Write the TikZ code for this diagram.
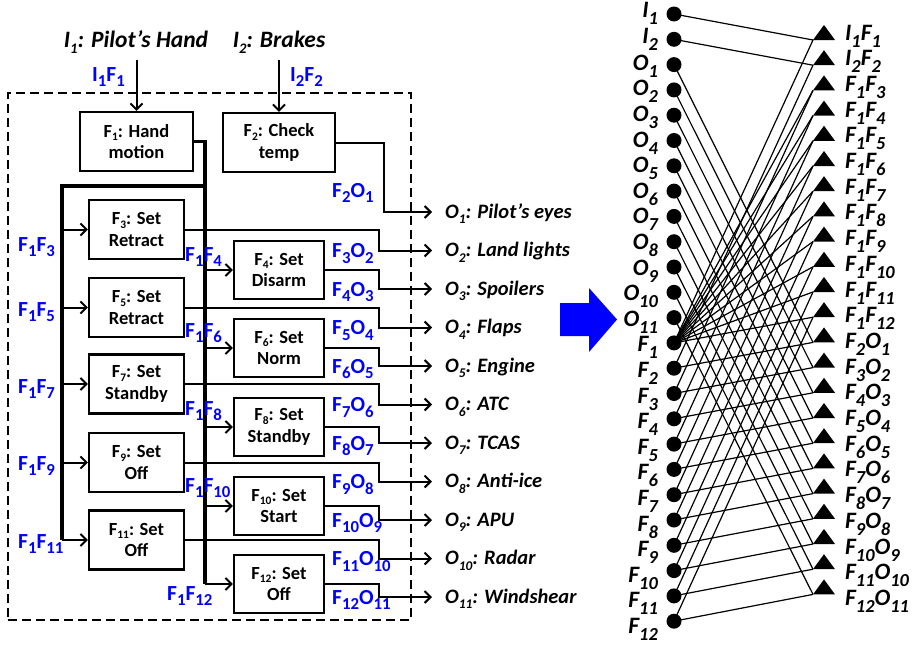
\documentclass[tikz,border=0pt]{standalone}
\usepackage{fontspec}
\setmainfont{Carlito}
\usepackage{graphicx}
\usetikzlibrary{arrows.meta,calc}
\pgfdeclarelayer{bg}
\pgfsetlayers{bg,main}
\newcommand\sbx[2][0.78]{\raisebox{-0.27em}{\scalebox{#1}{#2}}}
\newcommand\bsb[1]{\raisebox{-0.2em}{\scalebox{0.62}{#1}}}
\newcommand\gsb[1]{\raisebox{-0.3em}{\scalebox{0.78}{#1}}}
\begin{document}
\begin{tikzpicture}[x=1pt,y=-1pt,
  fbox/.style={draw,line width=2.3pt,align=center,inner sep=0pt,
    font=\fontsize{18.5}{21.5}\selectfont\bfseries},
  lbox/.style={fbox,minimum width=95pt,minimum height=59pt},
  rbox/.style={fbox,minimum width=90pt,minimum height=58pt},
  arr/.style={line width=2pt,-{Straight Barb[length=6pt,width=12pt,line width=2pt]}},
  bus/.style={line width=3.3pt},
  blbl/.style={text=blue,font=\fontsize{21.5}{21.5}\selectfont\bfseries,anchor=base west,inner sep=0pt},
  olbl/.style={font=\fontsize{20.5}{20.5}\selectfont\bfseries\itshape,anchor=base west,inner sep=0pt},
  tlbl/.style={font=\fontsize{23.5}{23.5}\selectfont\bfseries\itshape,anchor=base,inner sep=0pt},
  glbl/.style={font=\fontsize{23.5}{23.5}\selectfont\bfseries\itshape,inner sep=0pt},
  dot/.style={circle,fill,inner sep=0pt,minimum size=15pt},
  edge/.style={line width=1.2pt}
]
\useasboundingbox (0,0) rectangle (916,645);

% ---------- left: functional diagram ----------
\node[draw,line width=2.2pt,dash pattern=on 9pt off 5pt,minimum width=403pt,minimum height=527pt,inner sep=0pt] (sys) at (209.5,356.5) {};

\node[tlbl] (in1) at (136,47) {I\sbx[0.62]{1}: Pilot's Hand};
\node[tlbl] (in2) at (279,47) {I\sbx[0.62]{2}: Brakes};

\node[fbox,minimum width=113pt,minimum height=59pt] (F1) at (136.5,141.5) {F\bsb{1}: Hand\\motion};
\node[fbox,minimum width=112pt,minimum height=59pt] (F2) at (279,142.5) {F\bsb{2}: Check\\temp};

\node[lbox] (F3)  at (136.5,229.5) {F\bsb{3}: Set\\Retract};
\node[lbox] (F5)  at (136.5,307.5) {F\bsb{5}: Set\\Retract};
\node[lbox] (F7)  at (136.5,384)   {F\bsb{7}: Set\\Standby};
\node[lbox] (F9)  at (136.5,462.5) {F\bsb{9}: Set\\Off};
\node[lbox] (F11) at (136.5,540)   {F\bsb{11}: Set\\Off};

\node[rbox] (F4)  at (279,270) {F\bsb{4}: Set\\Disarm};
\node[rbox] (F6)  at (279,348) {F\bsb{6}: Set\\Norm};
\node[rbox] (F8)  at (279,427) {F\bsb{8}: Set\\Standby};
\node[rbox] (F10) at (279,506) {F\bsb{10}: Set\\Start};
\node[rbox] (F12) at (279,584) {F\bsb{12}: Set\\Off};

% inputs
\draw[arr,shorten <=6pt] (in1.south -| F1.north) -- (F1.north);
\draw[arr,shorten <=6pt] (in2.south -| F2.north) -- (F2.north);

% buses
\coordinate (j1) at (205,186);
\coordinate (busR) at (205,600);
\coordinate (busL) at (62,600);
\draw[bus] (F1.east) -| (busR |- F12);
\draw[bus] (j1) -| (busL |- F11);
\foreach \b in {F3,F5,F7,F9,F11} \draw[arr] (busL |- \b) -- (\b.west);
\foreach \b in {F4,F6,F8,F10,F12} \draw[arr] (busR |- \b) -- (\b.west);

% outputs
\coordinate (xo) at (379,0);
\coordinate (xo2) at (384,0);
\foreach \k [evaluate=\k as \yy using 212+38.5*(\k-1)] in {1,...,11}
  \coordinate (o\k) at (432,\yy);
\draw[arr] (F2.east) -| (xo2 |- o1) -- (o1);
\foreach \b/\o in {F3/o2,F4/o3,F5/o4,F6/o5,F7/o6,F8/o7,F9/o8,F10/o9,F11/o10,F12/o11}
  \draw[arr] (\b.east) -| (xo |- \o) -- (\o);
\foreach \k/\txt in {1/Pilot's eyes,2/Land lights,3/Spoilers,4/Flaps,5/Engine,6/ATC,7/TCAS,8/Anti-ice,9/APU,10/Radar,11/Windshear}
  \node[olbl] (ol\k) at ($(o\k)+(13,6)$) {O\sbx[0.65]{\k}: \txt};

% blue labels
\node[blbl] (bI1F1) at (92,81)  {I\sbx{1}F\sbx{1}};
\node[blbl] (bI2F2) at (290,81) {I\sbx{2}F\sbx{2}};
\node[blbl] (bF2O1) at (332,197) {F\sbx{2}O\sbx{1}};
\foreach \k [evaluate=\k as \m using int(\k+1)] in {2,...,11}
  \node[blbl] (bo\k) at ($(o\k)+(-100,7)$) {F\sbx{\m}O\sbx{\k}};
\node[blbl] (b13) at (18,251) {F\sbx{1}F\sbx{3}};
\node[blbl] (b15) at (18,316) {F\sbx{1}F\sbx{5}};
\node[blbl] (b17) at (18,393) {F\sbx{1}F\sbx{7}};
\node[blbl] (b19) at (18,470) {F\sbx{1}F\sbx{9}};
\node[blbl] (b111) at (18,548) {F\sbx{1}F\sbx{11}};
\node[blbl] (b14) at (185,261) {F\sbx{1}F\sbx{4}};
\node[blbl] (b16) at (185,337) {F\sbx{1}F\sbx{6}};
\node[blbl] (b18) at (185,415) {F\sbx{1}F\sbx{8}};
\node[blbl] (b110) at (185,492) {F\sbx{1}F\sbx{10}};
\node[blbl] (b112) at (167,600) {F\sbx{1}F\sbx{12}};

% big blue arrow
\fill[blue] (560,303) -- (589,303) -- (589,288) -- (617,319.5) -- (589,352) -- (589,336) -- (560,336) -- cycle;

% ---------- right: bipartite graph ----------
\node[dot] (c0) at (674,14) {};
\node[glbl,anchor=base east] (cl0) at (658,17) {I\gsb{1}};
\node[dot] (c1) at (674,39.3) {};
\node[glbl,anchor=base east] (cl1) at (658,43) {I\gsb{2}};
\foreach \m in {1,...,11}{
  \pgfmathtruncatemacro\j{\m+1}
  \node[dot] (c\j) at (674,14+25.3*\j) {};
  \node[glbl,anchor=base east] (cl\j) at (658,19+25.6*\j) {O\gsb{\m}};
}
\foreach \m in {1,...,12}{
  \pgfmathtruncatemacro\j{\m+12}
  \node[dot] (c\j) at (674,14+25.3*\j) {};
  \node[glbl,anchor=base east] (cl\j) at (658,19+25.6*\j) {F\gsb{\m}};
}
\foreach \i in {0,...,22}{
  \coordinate (t\i) at (813,40+25.2*\i);
  \fill (t\i) -- ++(22,0) -- ++(-11,-15) -- cycle;
}
\node[glbl,anchor=base west] (tl0) at (845,40) {I\gsb{1}F\gsb{1}};
\node[glbl,anchor=base west] (tl1) at (845,65.7) {I\gsb{2}F\gsb{2}};
\foreach \i in {2,...,11}{
  \pgfmathtruncatemacro\k{\i+1}
  \node[glbl,anchor=base west] (tl\i) at (845,40+25.7*\i) {F\gsb{1}F\gsb{\k}};
}
\foreach \i in {12,...,22}{
  \pgfmathtruncatemacro\k{\i-10}
  \pgfmathtruncatemacro\m{\i-11}
  \node[glbl,anchor=base west] (tl\i) at (845,40+25.7*\i) {F\gsb{\k}O\gsb{\m}};
}
\begin{pgfonlayer}{bg}
  \draw[edge] (c0.center) -- (t0);
  \draw[edge] (c13.center) -- (t0);
  \draw[edge] (c1.center) -- (t1);
  \draw[edge] (c14.center) -- (t1);
  \foreach \k in {3,...,12}{
    \pgfmathtruncatemacro\i{\k-1}
    \pgfmathtruncatemacro\j{\k+12}
    \draw[edge] (c13.center) -- (t\i);
    \draw[edge] (c\j.center) -- (t\i);
  }
  \foreach \k in {2,...,12}{
    \pgfmathtruncatemacro\i{\k+10}
    \pgfmathtruncatemacro\j{\k+12}
    \draw[edge] (c\j.center) -- (t\i);
    \draw[edge] (c\k.center) -- (t\i);
  }
\end{pgfonlayer}
\end{tikzpicture}
\end{document}
